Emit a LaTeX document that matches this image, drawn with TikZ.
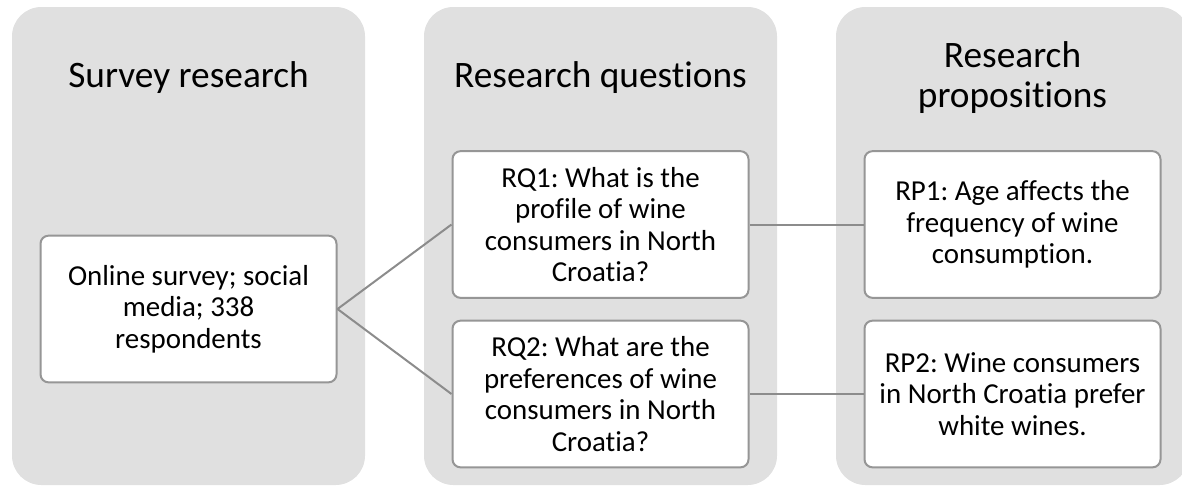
\documentclass[tikz,border=0pt]{standalone}
\usepackage{fontspec}
\setmainfont{Carlito}[Ligatures=NoCommon]
\usepackage{xcolor}
\usetikzlibrary{positioning}
\frenchspacing

\definecolor{panelgray}{RGB}{224,224,224}
\definecolor{edgegray}{RGB}{150,150,150}
\definecolor{linegray}{RGB}{140,140,140}

\tikzset{
  panel/.style={fill=panelgray, rounded corners=22pt, minimum width=264.75pt, minimum height=358.5pt, inner sep=0pt},
  title/.style={align=center, font=\fontsize{28}{30}\selectfont},
  card/.style={draw=edgegray, line width=1.5pt, fill=white, rounded corners=6pt, minimum width=222pt, minimum height=110pt, align=center, inner sep=2pt, font=\fontsize{21.7}{23.6}\selectfont},
  link/.style={draw=linegray, line width=1.5pt}
}

\begin{document}
\begin{tikzpicture}[x=0.75pt, y=-0.75pt]
  \useasboundingbox (0,0) rectangle (1182,487);
  \clip (0,0) rectangle (1182,487);

  % Panels
  \node[panel] (survey panel) at (188.5,246) {};
  \node[panel] (question panel) at (600.5,246) {};
  \node[panel] (proposition panel) at (1012.5,246) {};

  % Titles
  \node[title] (survey title) at (188.5,78) {Survey research};
  \node[title] (question title) at (600.5,78) {Research questions};
  \node[title] (proposition title) at (1012.5,78) {Research\\propositions};

  % Boxes
  \node[card] (survey) at (188.5,309) {Online survey; social\\media; 338\\respondents};
  \node[card] (rq1) at (600.5,224.5) {RQ1: What is the\\profile of wine\\consumers in North\\Croatia?};
  \node[card] (rq2) at (600.5,394) {RQ2: What are the\\preferences of wine\\consumers in North\\Croatia?};
  \node[card] (rp1) at (1012.5,224.5) {RP1: Age affects the\\frequency of wine\\consumption.};
  \node[card] (rp2) at (1012.5,394) {RP2: Wine consumers\\in North Croatia prefer\\white wines.};

  % Connectors
  \draw[link] (survey.east) -- (rq1.west);
  \draw[link] (survey.east) -- (rq2.west);
  \draw[link] (rq1.east) -- (rp1.west);
  \draw[link] (rq2.east) -- (rp2.west);
\end{tikzpicture}
\end{document}
